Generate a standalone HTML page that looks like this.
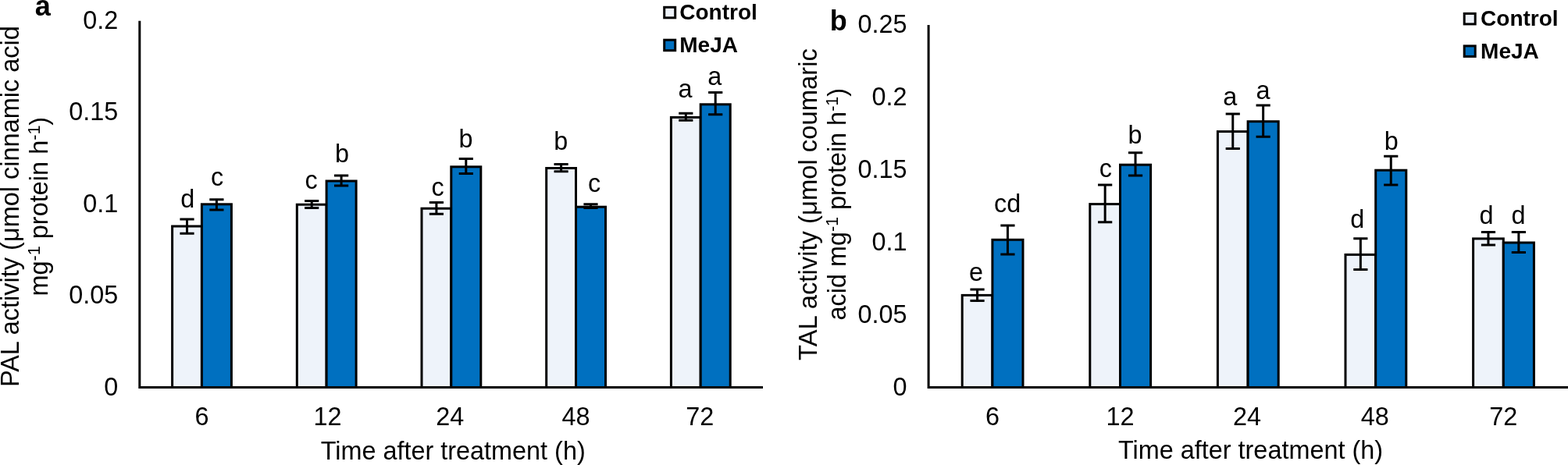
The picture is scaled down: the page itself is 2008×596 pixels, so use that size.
<!DOCTYPE html><html><head><meta charset="utf-8"><style>html,body{margin:0;padding:0;background:#fff;overflow:hidden}svg{display:block}text{font-family:"Liberation Sans",Arial,sans-serif;fill:#000}</style></head><body>
<svg width="2008" height="596" viewBox="0 0 2008 596">
<rect width="2008" height="596" fill="#fff"/>
<rect x="220.60" y="290.00" width="37.80" height="206.50" fill="#EEF3FA" stroke="#000" stroke-width="3"/>
<rect x="258.40" y="261.80" width="38.00" height="234.70" fill="#0070C0" stroke="#000" stroke-width="3"/>
<path d="M230.40 281.00H248.60M239.50 281.00V299.30M230.40 299.30H248.60" stroke="#000" stroke-width="3" fill="none"/>
<path d="M268.30 255.70H286.50M277.40 255.70V269.00M268.30 269.00H286.50" stroke="#000" stroke-width="3" fill="none"/>
<text x="240.2" y="265.5" font-size="32.4" text-anchor="middle">d</text>
<text x="278.2" y="238.3" font-size="32.4" text-anchor="middle">c</text>
<text x="258.4" y="545.2" font-size="32.4" text-anchor="middle">6</text>
<rect x="380.30" y="262.20" width="37.80" height="234.30" fill="#EEF3FA" stroke="#000" stroke-width="3"/>
<rect x="418.10" y="232.00" width="38.00" height="264.50" fill="#0070C0" stroke="#000" stroke-width="3"/>
<path d="M390.10 257.50H408.30M399.20 257.50V266.50M390.10 266.50H408.30" stroke="#000" stroke-width="3" fill="none"/>
<path d="M428.00 225.00H446.20M437.10 225.00V238.00M428.00 238.00H446.20" stroke="#000" stroke-width="3" fill="none"/>
<text x="398.5" y="242.3" font-size="32.4" text-anchor="middle">c</text>
<text x="438.0" y="207.8" font-size="32.4" text-anchor="middle">b</text>
<text x="419.6" y="545.2" font-size="32.4" text-anchor="middle">12</text>
<rect x="540.00" y="267.20" width="37.80" height="229.30" fill="#EEF3FA" stroke="#000" stroke-width="3"/>
<rect x="577.80" y="213.80" width="38.00" height="282.70" fill="#0070C0" stroke="#000" stroke-width="3"/>
<path d="M549.80 259.50H568.00M558.90 259.50V274.20M549.80 274.20H568.00" stroke="#000" stroke-width="3" fill="none"/>
<path d="M587.70 203.50H605.90M596.80 203.50V222.60M587.70 222.60H605.90" stroke="#000" stroke-width="3" fill="none"/>
<text x="560.5" y="250.6" font-size="32.4" text-anchor="middle">c</text>
<text x="596.5" y="188.9" font-size="32.4" text-anchor="middle">b</text>
<text x="576.3" y="545.2" font-size="32.4" text-anchor="middle">24</text>
<rect x="699.70" y="215.50" width="37.80" height="281.00" fill="#EEF3FA" stroke="#000" stroke-width="3"/>
<rect x="737.50" y="265.20" width="38.00" height="231.30" fill="#0070C0" stroke="#000" stroke-width="3"/>
<path d="M709.50 210.60H727.70M718.60 210.60V219.70M709.50 219.70H727.70" stroke="#000" stroke-width="3" fill="none"/>
<path d="M747.40 261.80H765.60M756.50 261.80V266.40M747.40 266.40H765.60" stroke="#000" stroke-width="3" fill="none"/>
<text x="718.2" y="191.5" font-size="32.4" text-anchor="middle">b</text>
<text x="761.0" y="245.6" font-size="32.4" text-anchor="middle">c</text>
<text x="737.5" y="545.2" font-size="32.4" text-anchor="middle">48</text>
<rect x="859.40" y="150.40" width="37.80" height="346.10" fill="#EEF3FA" stroke="#000" stroke-width="3"/>
<rect x="897.20" y="133.80" width="38.00" height="362.70" fill="#0070C0" stroke="#000" stroke-width="3"/>
<path d="M869.20 145.20H887.40M878.30 145.20V154.20M869.20 154.20H887.40" stroke="#000" stroke-width="3" fill="none"/>
<path d="M907.10 118.50H925.30M916.20 118.50V146.70M907.10 146.70H925.30" stroke="#000" stroke-width="3" fill="none"/>
<text x="877.4" y="125.1" font-size="32.4" text-anchor="middle">a</text>
<text x="915.2" y="108.7" font-size="32.4" text-anchor="middle">a</text>
<text x="896.2" y="545.2" font-size="32.4" text-anchor="middle">72</text>
<path d="M178.80 26.8V496.5H977" stroke="#000" stroke-width="3" fill="none" stroke-linecap="butt" stroke-linejoin="miter"/>
<text x="151.3" y="506.8" font-size="32.4" text-anchor="end">0</text>
<text x="151.3" y="389.3" font-size="32.4" text-anchor="end">0.05</text>
<text x="151.3" y="271.8" font-size="32.4" text-anchor="end">0.1</text>
<text x="151.3" y="154.3" font-size="32.4" text-anchor="end">0.15</text>
<text x="151.3" y="36.8" font-size="32.4" text-anchor="end">0.2</text>
<text x="580.2" y="588.5" font-size="32.4" text-anchor="middle">Time after treatment (h)</text>
<text x="44.8" y="19.5" font-size="36" font-weight="bold">a</text>
<rect x="850.7" y="9.3" width="14" height="13.5" fill="#EEF3FA" stroke="#000" stroke-width="3"/>
<rect x="850.7" y="51.2" width="14" height="13.5" fill="#0070C0" stroke="#000" stroke-width="3"/>
<text x="870.3" y="24.8" font-size="28" font-weight="bold">Control</text>
<text x="870.3" y="67.0" font-size="28" font-weight="bold">MeJA</text>
<text transform="translate(24.1,264.6) rotate(-90)" font-size="32.5" text-anchor="middle">PAL activity (μmol cinnamic acid</text>
<text transform="translate(60.7,264.7) rotate(-90)" font-size="32.5" text-anchor="middle">mg<tspan font-size="21.5" dy="-9.5">-1</tspan><tspan dy="9.5"> protein h</tspan><tspan font-size="21.5" dy="-9.5">-1</tspan><tspan dy="9.5">)</tspan></text>
<rect x="1232.20" y="378.40" width="38.70" height="118.10" fill="#EEF3FA" stroke="#000" stroke-width="3"/>
<rect x="1270.90" y="307.30" width="39.10" height="189.20" fill="#0070C0" stroke="#000" stroke-width="3"/>
<path d="M1242.45 371.00H1260.65M1251.55 371.00V385.50M1242.45 385.50H1260.65" stroke="#000" stroke-width="3" fill="none"/>
<path d="M1281.35 288.90H1299.55M1290.45 288.90V325.90M1281.35 325.90H1299.55" stroke="#000" stroke-width="3" fill="none"/>
<text x="1250.0" y="360.2" font-size="32.4" text-anchor="middle">e</text>
<text x="1290.1" y="271.5" font-size="32.4" text-anchor="middle">cd</text>
<text x="1270.9" y="545.2" font-size="32.4" text-anchor="middle">6</text>
<rect x="1395.80" y="261.60" width="38.70" height="234.90" fill="#EEF3FA" stroke="#000" stroke-width="3"/>
<rect x="1434.50" y="211.20" width="39.10" height="285.30" fill="#0070C0" stroke="#000" stroke-width="3"/>
<path d="M1406.05 237.00H1424.25M1415.15 237.00V284.80M1406.05 284.80H1424.25" stroke="#000" stroke-width="3" fill="none"/>
<path d="M1444.95 195.70H1463.15M1454.05 195.70V225.00M1444.95 225.00H1463.15" stroke="#000" stroke-width="3" fill="none"/>
<text x="1415.8" y="227.1" font-size="32.4" text-anchor="middle">c</text>
<text x="1453.4" y="183.6" font-size="32.4" text-anchor="middle">b</text>
<text x="1434.5" y="545.2" font-size="32.4" text-anchor="middle">12</text>
<rect x="1559.40" y="168.60" width="38.70" height="327.90" fill="#EEF3FA" stroke="#000" stroke-width="3"/>
<rect x="1598.10" y="155.70" width="39.10" height="340.80" fill="#0070C0" stroke="#000" stroke-width="3"/>
<path d="M1569.65 145.90H1587.85M1578.75 145.90V190.50M1569.65 190.50H1587.85" stroke="#000" stroke-width="3" fill="none"/>
<path d="M1608.55 134.90H1626.75M1617.65 134.90V175.20M1608.55 175.20H1626.75" stroke="#000" stroke-width="3" fill="none"/>
<text x="1575.3" y="134.7" font-size="32.4" text-anchor="middle">a</text>
<text x="1617.6" y="126.6" font-size="32.4" text-anchor="middle">a</text>
<text x="1597.1" y="545.2" font-size="32.4" text-anchor="middle">24</text>
<rect x="1723.00" y="326.40" width="38.70" height="170.10" fill="#EEF3FA" stroke="#000" stroke-width="3"/>
<rect x="1761.70" y="218.20" width="39.10" height="278.30" fill="#0070C0" stroke="#000" stroke-width="3"/>
<path d="M1733.25 305.80H1751.45M1742.35 305.80V345.40M1733.25 345.40H1751.45" stroke="#000" stroke-width="3" fill="none"/>
<path d="M1772.15 200.20H1790.35M1781.25 200.20V237.10M1772.15 237.10H1790.35" stroke="#000" stroke-width="3" fill="none"/>
<text x="1738.3" y="292.1" font-size="32.4" text-anchor="middle">d</text>
<text x="1781.8" y="191.6" font-size="32.4" text-anchor="middle">b</text>
<text x="1760.7" y="545.2" font-size="32.4" text-anchor="middle">48</text>
<rect x="1886.60" y="305.90" width="38.70" height="190.60" fill="#EEF3FA" stroke="#000" stroke-width="3"/>
<rect x="1925.30" y="311.00" width="39.10" height="185.50" fill="#0070C0" stroke="#000" stroke-width="3"/>
<path d="M1896.85 297.60H1915.05M1905.95 297.60V313.90M1896.85 313.90H1915.05" stroke="#000" stroke-width="3" fill="none"/>
<path d="M1935.75 297.60H1953.95M1944.85 297.60V323.40M1935.75 323.40H1953.95" stroke="#000" stroke-width="3" fill="none"/>
<text x="1903.5" y="287.0" font-size="32.4" text-anchor="middle">d</text>
<text x="1944.5" y="286.8" font-size="32.4" text-anchor="middle">d</text>
<text x="1925.3" y="545.2" font-size="32.4" text-anchor="middle">72</text>
<path d="M1189.10 32.0V496.5H2008" stroke="#000" stroke-width="3" fill="none" stroke-linecap="butt" stroke-linejoin="miter"/>
<text x="1161.5" y="506.8" font-size="32.4" text-anchor="end">0</text>
<text x="1161.5" y="413.9" font-size="32.4" text-anchor="end">0.05</text>
<text x="1161.5" y="321.0" font-size="32.4" text-anchor="end">0.1</text>
<text x="1161.5" y="228.1" font-size="32.4" text-anchor="end">0.15</text>
<text x="1161.5" y="135.2" font-size="32.4" text-anchor="end">0.2</text>
<text x="1161.5" y="42.3" font-size="32.4" text-anchor="end">0.25</text>
<text x="1601.5" y="588" font-size="32.4" text-anchor="middle">Time after treatment (h)</text>
<text x="1062.8" y="39.3" font-size="36" font-weight="bold">b</text>
<rect x="1875.2" y="17.4" width="14" height="13.5" fill="#EEF3FA" stroke="#000" stroke-width="3"/>
<rect x="1875.2" y="58.9" width="14" height="13.5" fill="#0070C0" stroke="#000" stroke-width="3"/>
<text x="1896.1" y="33.4" font-size="28" font-weight="bold">Control</text>
<text x="1896.1" y="75.0" font-size="28" font-weight="bold">MeJA</text>
<text transform="translate(1046.0,262.0) rotate(-90)" font-size="32.8" text-anchor="middle">TAL activity (μmol coumaric</text>
<text transform="translate(1082.5,261.7) rotate(-90)" font-size="32.4" text-anchor="middle">acid mg<tspan font-size="21.5" dy="-9.5">-1</tspan><tspan dy="9.5"> protein h</tspan><tspan font-size="21.5" dy="-9.5">-1</tspan><tspan dy="9.5">)</tspan></text>
</svg></body></html>
